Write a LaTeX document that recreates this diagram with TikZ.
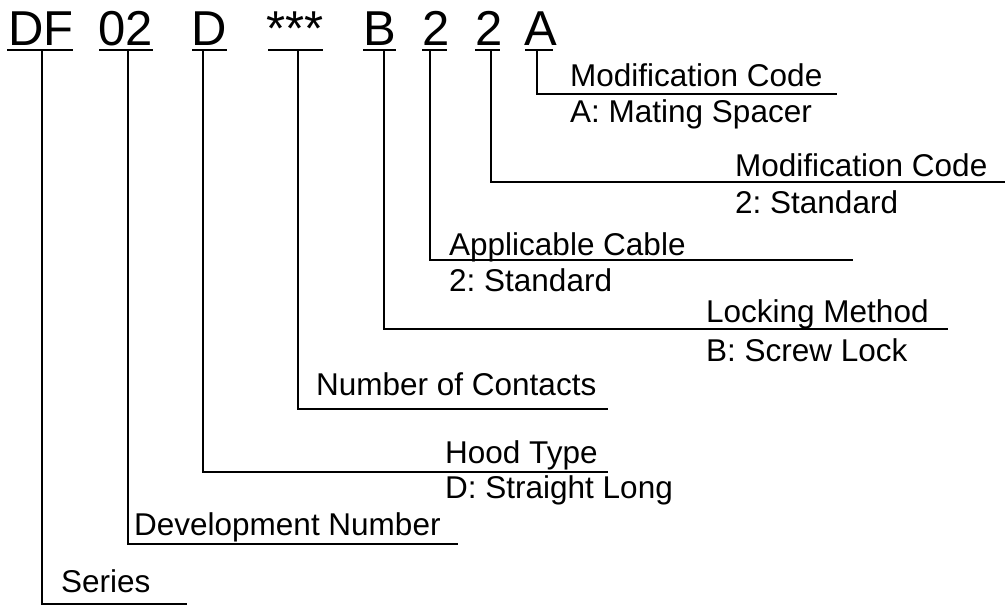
\documentclass[tikz,border=0pt]{standalone}
\usepackage{fontspec}
\setmainfont{Liberation Sans}
\frenchspacing
\begin{document}
\begin{tikzpicture}[x=1pt,y=-1pt,
  code/.style={anchor=base,inner sep=0pt,font=\fontsize{49}{55}\selectfont},
  lbl/.style={anchor=base west,inner sep=0pt,font=\fontsize{31.5}{37}\selectfont},
  uline/.style={line width=2.6pt},
  conn/.style={line width=2pt}]
\useasboundingbox (0,0) rectangle (1007,606);
% code characters
\node[code] (c1) at (41,45) {DF};
\node[code] (c2) at (126,45) {02};
\node[code] (c3) at (209,45) {D};
\node[code] (c4) at (295,45) {***};
\node[code] (c5) at (379.5,45) {B};
\node[code] (c6) at (436,45) {2};
\node[code] (c7) at (489,45) {2};
\node[code] (c8) at (541,45) {A};
% underlines
\draw[uline] (7,50) -- (73,50);
\draw[uline] (99,50) -- (153,50);
\draw[uline] (192,50) -- (227,50);
\draw[uline] (268,50) -- (323,50);
\draw[uline] (363,50) -- (396,50);
\draw[uline] (422,50) -- (447,50);
\draw[uline] (475,50) -- (500,50);
\draw[uline] (525,50) -- (553,50);
% connector start and end points
\coordinate (v1) at (42,50);    \coordinate (e1) at (187,604);
\coordinate (v2) at (128,50);   \coordinate (e2) at (458,543.5);
\coordinate (v3) at (203,50);   \coordinate (e3) at (608,472);
\coordinate (v4) at (297.5,50); \coordinate (e4) at (608,408.5);
\coordinate (v5) at (384,50);   \coordinate (e5) at (948,329);
\coordinate (v6) at (430,50);   \coordinate (e6) at (853,260);
\coordinate (v7) at (491,50);   \coordinate (e7) at (1005,181.5);
\coordinate (v8) at (537,50);   \coordinate (e8) at (837,93.5);
\foreach \i in {1,...,8} {\draw[conn] (v\i) |- (e\i);}
% labels
\node[lbl] (t1) at (61,592) {Series};
\node[lbl] (t2) at (134,535) {Development Number};
\node[lbl] (t3) at (445,463) {Hood Type};
\node[lbl] (s3) at (445,498) {D: Straight Long};
\node[lbl] (t4) at (316,395) {Number of Contacts};
\node[lbl] (t5) at (706,322) {Locking Method};
\node[lbl] (s5) at (706,361) {B: Screw Lock};
\node[lbl] (t6) at (449,255) {Applicable Cable};
\node[lbl] (s6) at (449,291) {2: Standard};
\node[lbl] (t7) at (735,176) {Modification Code};
\node[lbl] (s7) at (735,213) {2: Standard};
\node[lbl] (t8) at (570,86) {Modification Code};
\node[lbl] (s8) at (570,122) {A: Mating Spacer};
\end{tikzpicture}
\end{document}
